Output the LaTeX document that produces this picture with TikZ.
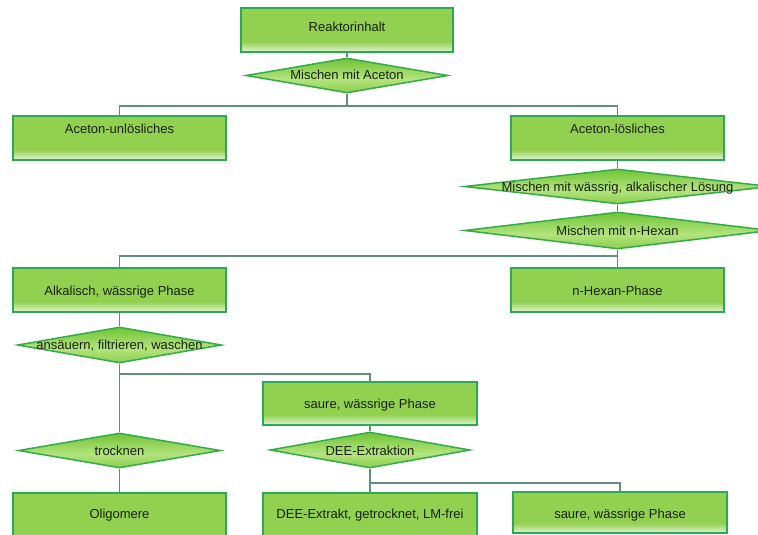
\documentclass[tikz,border=0pt]{standalone}
\usepackage{fontspec}
\setmainfont{Liberation Sans}
\usetikzlibrary{shapes.geometric}

\definecolor{boxgreen}{RGB}{146,208,80}
\definecolor{boxlight}{RGB}{226,244,214}
\definecolor{boxedge}{RGB}{45,168,85}
\definecolor{diamtop}{RGB}{112,196,52}
\definecolor{diammid}{RGB}{180,228,126}
\definecolor{diamlow}{RGB}{138,206,76}
\definecolor{diamedge}{RGB}{50,172,72}
\definecolor{linkgray}{RGB}{95,145,120}
\definecolor{inktext}{RGB}{24,32,18}

% boxes: solid green that fades out towards the lower edge
\pgfdeclareverticalshading{boxfade}{100bp}{color(0bp)=(boxlight); color(25bp)=(boxlight); color(37bp)=(boxgreen); color(75bp)=(boxgreen); color(100bp)=(boxgreen)}
% decisions: brighter band slightly below the middle
\pgfdeclareverticalshading{diamfade}{100bp}{color(0bp)=(diamlow); color(25bp)=(diamlow); color(45bp)=(diammid); color(75bp)=(diamtop); color(100bp)=(diamtop)}

\tikzset{
  stepbox/.style={rectangle, draw=boxedge, line width=1.5pt, shading=boxfade,
    inner sep=0pt},
  decision/.style={diamond, draw=diamedge, line width=1.5pt, shading=diamfade,
    inner sep=0pt},
  steptext/.style={anchor=base, inner sep=0pt, text=inktext,
    font=\fontsize{13}{15}\selectfont},
  link/.style={draw=linkgray, line width=1.3pt},
}

\begin{document}
\begin{tikzpicture}[x=1pt,y=-1pt]
\useasboundingbox (0,0) rectangle (758,535);
\fill[white] (0,0) rectangle (758,535);
\clip (0,0) rectangle (758,535);

% ---- boxes ----
\node[stepbox, minimum width=212, minimum height=44] (reak) at (347,30)     {};
\node[stepbox, minimum width=213, minimum height=44] (unl)  at (119.5,138) {};
\node[stepbox, minimum width=213, minimum height=44] (los)  at (617.5,138) {};
\node[stepbox, minimum width=213, minimum height=44] (alk)  at (119.5,290) {};
\node[stepbox, minimum width=213, minimum height=44] (hex)  at (617.5,290) {};
\node[stepbox, minimum width=214, minimum height=43] (sau)  at (370,403.5) {};
\node[stepbox, minimum width=214, minimum height=52] (ext)  at (370,519)   {};
\node[stepbox, minimum width=214, minimum height=41] (sau2) at (620,512.5) {};
\node[stepbox, minimum width=213, minimum height=52] (olig) at (119.5,519) {};

% ---- decisions ----
\node[decision, minimum width=202, minimum height=35] (mixa) at (347,75.5)    {};
\node[decision, minimum width=306, minimum height=35] (mixb) at (617.5,186.5) {};
\node[decision, minimum width=306, minimum height=37] (mixc) at (617.5,230.5) {};
\node[decision, minimum width=204, minimum height=36] (acid) at (119.5,345)   {};
\node[decision, minimum width=202, minimum height=35] (dry)  at (119.5,450.5) {};
\node[decision, minimum width=200, minimum height=36] (dee)  at (370,450)     {};

% ---- connectors ----
\coordinate (j1) at (347,106);
\coordinate (j2) at (617.5,256);
\coordinate (j3) at (119.5,374);
\coordinate (j4) at (370,483);

\draw[link] (reak.south) -- (mixa.north);
\draw[link] (mixa.south) -- (j1) -| (unl.north);
\draw[link] (j1) -| (los.north);
\draw[link] (los.south) -- (mixb.north);
\draw[link] (mixb.south) -- (mixc.north);
\draw[link] (mixc.south) -- (j2) -| (alk.north);
\draw[link] (j2) -- (hex.north);
\draw[link] (alk.south) -- (acid.north);
\draw[link] (acid.south) -- (j3) -- (dry.north);
\draw[link] (j3) -| (sau.north);
\draw[link] (dry.south) -- (olig.north);
\draw[link] (sau.south) -- (dee.north);
\draw[link] (dee.south) -- (j4) -- (ext.north);
\draw[link] (j4) -| (sau2.north);

% ---- texts ----
\node[steptext] (reakt) at (347,31.5)    {Reaktorinhalt};
\node[steptext] (unlt)  at (119.5,133.5) {Aceton-unlösliches};
\node[steptext] (lost)  at (617.5,133.5) {Aceton-lösliches};
\node[steptext] (alkt)  at (119.5,295.5) {Alkalisch, wässrige Phase};
\node[steptext] (hext)  at (617.5,295.5) {n-Hexan-Phase};
\node[steptext] (saut)  at (370,408)     {saure, wässrige Phase};
\node[steptext] (extt)  at (370,518.5)   {DEE-Extrakt, getrocknet, LM-frei};
\node[steptext] (sau2t) at (620,518)     {saure, wässrige Phase};
\node[steptext] (oligt) at (119.5,518)   {Oligomere};
\node[steptext] (mixat) at (347,80)      {Mischen mit Aceton};
\node[steptext] (mixbt) at (617.5,191)   {Mischen mit wässrig, alkalischer Lösung};
\node[steptext] (mixct) at (617.5,235)   {Mischen mit n-Hexan};
\node[steptext] (acidt) at (119.5,349.5) {ansäuern, filtrieren, waschen};
\node[steptext] (dryt)  at (119.5,455)   {trocknen};
\node[steptext] (deet)  at (370,455)     {DEE-Extraktion};
\end{tikzpicture}
\end{document}
